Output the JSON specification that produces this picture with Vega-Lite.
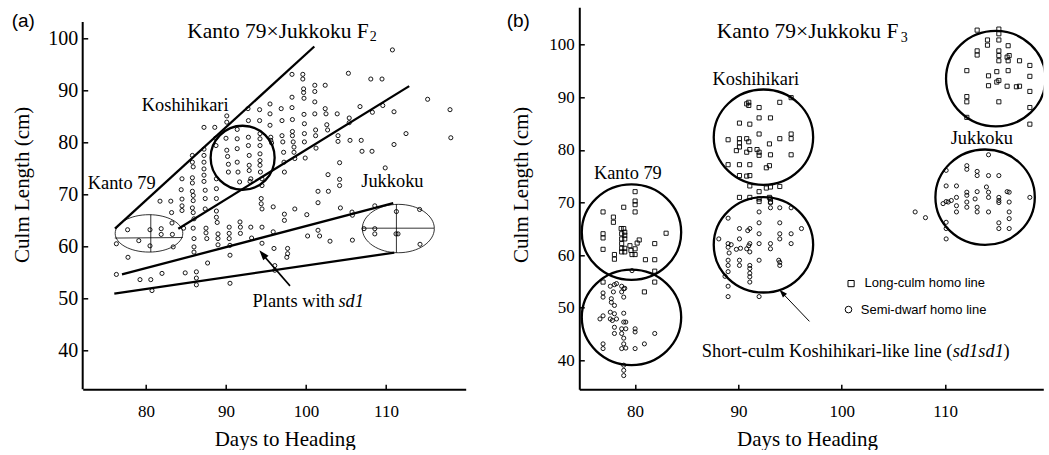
{
  "$schema": "https://vega.github.io/schema/vega-lite/v6.json",
  "background": "white",
  "padding": {"left": 11.7, "top": 7.3, "right": 0, "bottom": 0},
  "config": {
    "view": {"stroke": null},
    "axis": {
      "grid": false,
      "labelFont": "Liberation Serif", "labelFontSize": 17, "labelColor": "black",
      "titleFont": "Liberation Serif", "titleFontSize": 21, "titleFontWeight": "normal", "titleColor": "black",
      "domainColor": "black", "domainWidth": 2, "tickColor": "black", "tickWidth": 1.5, "tickSize": -5
    },
    "axisX": {"labelPadding": 19},
    "axisY": {"labelPadding": 10}
  },
  "datasets": {
    "leftPoints": [
      {"x":76.3,"y":60.5},{"x":76.3,"y":54.6},{"x":77.7,"y":63.2},{"x":77.75,"y":57.9},{"x":79.1,"y":61.1},{"x":79.25,"y":53.6},
      {"x":80.5,"y":63.2},{"x":80.5,"y":60.1},{"x":80.6,"y":53.6},{"x":80.75,"y":51.5},{"x":81.75,"y":68.7},{"x":81.9,"y":63.4},
      {"x":81.9,"y":62.3},{"x":82.0,"y":54.8},{"x":83.1,"y":68.7},{"x":83.2,"y":66.5},{"x":83.25,"y":64.5},{"x":83.3,"y":62.3},
      {"x":83.4,"y":59.9},{"x":84.5,"y":73.0},{"x":84.4,"y":70.9},{"x":84.5,"y":69.1},{"x":84.5,"y":67.8},{"x":84.5,"y":66.9},
      {"x":84.7,"y":63.5},{"x":84.9,"y":54.9},{"x":85.8,"y":77.5},{"x":85.8,"y":76.2},{"x":85.9,"y":75.3},{"x":85.8,"y":73.2},
      {"x":85.8,"y":72.2},{"x":85.8,"y":70.6},{"x":85.9,"y":69.8},{"x":85.9,"y":68.8},{"x":85.8,"y":67.4},{"x":85.9,"y":66.5},
      {"x":86.0,"y":65.3},{"x":85.9,"y":63.5},{"x":86.0,"y":61.5},{"x":86.0,"y":59.9},{"x":86.0,"y":58.9},{"x":86.3,"y":55.1},
      {"x":86.3,"y":53.9},{"x":86.3,"y":52.6},{"x":87.25,"y":82.9},{"x":87.25,"y":78.7},{"x":87.25,"y":77.5},{"x":87.25,"y":76.2},
      {"x":87.25,"y":74.9},{"x":87.25,"y":73.7},{"x":87.25,"y":72.5},{"x":87.4,"y":70.8},{"x":87.4,"y":69.2},{"x":87.4,"y":67.2},
      {"x":87.5,"y":63.5},{"x":87.5,"y":62.6},{"x":87.6,"y":61.5},{"x":87.7,"y":56.8},{"x":88.6,"y":82.9},{"x":88.7,"y":80.8},
      {"x":88.75,"y":79.4},{"x":88.8,"y":73.0},{"x":88.8,"y":71.1},{"x":88.8,"y":69.2},{"x":88.8,"y":66.8},{"x":88.8,"y":65.6},
      {"x":88.9,"y":64.6},{"x":89.0,"y":62.4},{"x":89.0,"y":61.5},{"x":89.0,"y":60.3},{"x":90.1,"y":85.1},{"x":90.1,"y":83.9},
      {"x":90.0,"y":80.8},{"x":90.1,"y":78.5},{"x":90.2,"y":77.3},{"x":90.3,"y":75.8},{"x":90.3,"y":74.3},{"x":90.4,"y":63.7},
      {"x":90.4,"y":62.5},{"x":90.4,"y":61.5},{"x":90.5,"y":60.2},{"x":90.5,"y":58.3},{"x":90.5,"y":52.9},{"x":91.4,"y":82.5},
      {"x":91.4,"y":80.7},{"x":91.4,"y":78.8},{"x":91.4,"y":76.2},{"x":91.5,"y":74.3},{"x":91.7,"y":72.4},{"x":91.75,"y":64.7},
      {"x":91.8,"y":63.7},{"x":91.8,"y":62.5},{"x":92.75,"y":86.5},{"x":92.8,"y":84.2},{"x":92.8,"y":81.0},{"x":92.8,"y":79.4},
      {"x":92.9,"y":77.5},{"x":92.9,"y":75.6},{"x":92.9,"y":74.6},{"x":93.1,"y":73.0},{"x":93.0,"y":72.5},{"x":93.1,"y":63.7},
      {"x":93.2,"y":61.6},{"x":94.2,"y":86.3},{"x":94.2,"y":84.2},{"x":94.25,"y":81.7},{"x":94.25,"y":80.7},{"x":94.25,"y":79.4},
      {"x":94.25,"y":77.8},{"x":94.25,"y":76.5},{"x":94.25,"y":75.6},{"x":94.3,"y":74.3},{"x":94.5,"y":73.0},{"x":94.5,"y":71.7},
      {"x":94.4,"y":69.2},{"x":94.4,"y":68.2},{"x":94.5,"y":67.2},{"x":94.5,"y":63.7},{"x":94.5,"y":60.6},{"x":95.5,"y":87.4},
      {"x":95.5,"y":85.5},{"x":95.5,"y":83.3},{"x":95.6,"y":81.0},{"x":95.6,"y":80.4},{"x":95.7,"y":79.9},{"x":95.9,"y":67.6},
      {"x":95.9,"y":62.8},{"x":96.0,"y":59.6},{"x":96.1,"y":56.3},{"x":96.1,"y":55.4},{"x":96.9,"y":86.5},{"x":97.0,"y":84.2},
      {"x":97.0,"y":81.3},{"x":97.1,"y":80.1},{"x":97.2,"y":78.1},{"x":97.25,"y":76.2},{"x":97.3,"y":74.3},{"x":97.3,"y":66.2},
      {"x":97.3,"y":65.0},{"x":97.6,"y":57.9},{"x":97.7,"y":58.6},{"x":97.7,"y":59.6},{"x":98.25,"y":93.1},{"x":98.25,"y":88.7},
      {"x":98.25,"y":86.7},{"x":98.3,"y":84.4},{"x":98.3,"y":82.1},{"x":98.3,"y":81.3},{"x":98.4,"y":80.1},{"x":98.5,"y":79.1},
      {"x":98.5,"y":78.1},{"x":98.6,"y":76.9},{"x":98.6,"y":67.2},{"x":99.6,"y":93.1},{"x":99.6,"y":92.2},{"x":99.7,"y":90.3},
      {"x":99.7,"y":89.6},{"x":99.75,"y":88.5},{"x":99.75,"y":85.4},{"x":99.8,"y":83.6},{"x":99.8,"y":81.7},{"x":99.8,"y":80.1},
      {"x":99.9,"y":77.0},{"x":100.1,"y":66.1},{"x":100.2,"y":62.0},{"x":101.1,"y":91.0},{"x":101.1,"y":89.8},{"x":101.1,"y":87.8},
      {"x":101.1,"y":85.5},{"x":101.2,"y":82.4},{"x":101.2,"y":81.3},{"x":101.25,"y":78.9},{"x":101.5,"y":70.6},{"x":101.5,"y":68.4},
      {"x":101.5,"y":63.1},{"x":101.7,"y":62.0},{"x":102.4,"y":91.0},{"x":102.4,"y":86.5},{"x":102.5,"y":85.5},{"x":102.6,"y":83.4},
      {"x":102.7,"y":82.4},{"x":102.75,"y":73.8},{"x":102.8,"y":70.6},{"x":103.0,"y":61.0},{"x":103.9,"y":85.5},{"x":104.0,"y":81.3},
      {"x":104.0,"y":80.2},{"x":104.2,"y":76.1},{"x":104.2,"y":72.9},{"x":104.2,"y":71.7},{"x":104.3,"y":67.4},{"x":105.3,"y":93.3},
      {"x":105.4,"y":84.7},{"x":105.4,"y":83.8},{"x":105.5,"y":80.4},{"x":105.75,"y":66.6},{"x":105.8,"y":61.2},{"x":105.8,"y":66.0},
      {"x":106.75,"y":86.9},{"x":106.9,"y":80.4},{"x":107.0,"y":78.3},{"x":107.25,"y":63.4},{"x":108.1,"y":92.2},{"x":108.25,"y":78.3},
      {"x":108.3,"y":85.8},{"x":108.6,"y":63.4},{"x":108.6,"y":62.4},{"x":108.6,"y":67.8},{"x":109.5,"y":92.2},{"x":109.6,"y":87.1},
      {"x":109.9,"y":75.1},{"x":110.8,"y":97.8},{"x":111.0,"y":85.9},{"x":111.0,"y":79.6},{"x":111.3,"y":66.7},{"x":111.25,"y":62.4},
      {"x":111.5,"y":62.4},{"x":112.5,"y":81.7},{"x":114.2,"y":67.1},{"x":114.25,"y":60.4},{"x":115.2,"y":88.3},{"x":118.0,"y":86.3},
      {"x":118.1,"y":80.9}
    ],
    "leftLines": [
      {"x":76.125,"y":63.4,"x2":101.04,"y2":98.46},
      {"x":84.04,"y":63.4,"x2":112.9,"y2":90.83},
      {"x":77.0,"y":54.6,"x2":110.9,"y2":68.3},
      {"x":76.04,"y":50.9,"x2":111.04,"y2":58.8}
    ],
    "leftCross": [
      {"x":76.1,"y":61.6,"x2":84.6,"y2":61.7},
      {"x":80.6,"y":66.1,"x2":80.6,"y2":58.9},
      {"x":107.0,"y":63.5,"x2":116.0,"y2":63.5},
      {"x":111.3,"y":68.1,"x2":111.3,"y2":58.8}
    ],
    "rightSquares": [
      {"x":76.9,"y":68.21},{"x":76.9,"y":64.06},{"x":76.9,"y":63.27},{"x":76.9,"y":61.1},{"x":77.9,"y":67.22},{"x":77.9,"y":66.24},
      {"x":78.0,"y":60.11},{"x":78.0,"y":59.23},{"x":78.9,"y":69.1},{"x":78.65,"y":65.05},{"x":78.7,"y":64.06},{"x":78.7,"y":63.08},
      {"x":78.7,"y":62.19},{"x":78.7,"y":61.3},{"x":78.7,"y":60.61},{"x":78.9,"y":65.05},{"x":79.0,"y":64.36},{"x":79.0,"y":63.77},
      {"x":79.0,"y":63.08},{"x":79.0,"y":61.3},{"x":79.0,"y":60.61},{"x":79.5,"y":61.79},{"x":79.6,"y":60.9},{"x":79.7,"y":60.11},
      {"x":80.0,"y":72.06},{"x":80.0,"y":70.28},{"x":80.0,"y":69.59},{"x":80.0,"y":68.21},{"x":80.2,"y":62.29},{"x":80.0,"y":61.2},
      {"x":80.0,"y":60.11},{"x":80.4,"y":62.88},{"x":81.0,"y":59.13},{"x":81.9,"y":62.19},{"x":81.9,"y":59.13},{"x":81.9,"y":56.95},
      {"x":81.9,"y":54.88},{"x":83.0,"y":64.16},{"x":80.9,"y":53.01},{"x":76.9,"y":54.88},
      {"x":91.0,"y":89.04},{"x":91.0,"y":88.45},{"x":90.8,"y":88.75},{"x":92.0,"y":88.05},{"x":94.0,"y":89.04},{"x":95.1,"y":89.93},
      {"x":90.1,"y":85.09},{"x":91.1,"y":84.89},{"x":92.0,"y":86.08},{"x":93.1,"y":86.08},{"x":89.0,"y":81.93},{"x":90.1,"y":82.13},
      {"x":90.1,"y":81.34},{"x":90.1,"y":80.55},{"x":89.8,"y":79.86},{"x":90.8,"y":82.13},{"x":91.0,"y":81.54},{"x":91.1,"y":80.06},
      {"x":90.8,"y":79.56},{"x":92.0,"y":83.02},{"x":91.8,"y":80.06},{"x":92.0,"y":79.56},{"x":92.0,"y":78.97},{"x":93.0,"y":81.14},
      {"x":93.1,"y":79.07},{"x":94.0,"y":82.13},{"x":95.1,"y":83.02},{"x":95.1,"y":82.13},{"x":95.1,"y":79.07},{"x":89.0,"y":77.19},
      {"x":90.1,"y":77.19},{"x":91.1,"y":77.19},{"x":92.7,"y":76.6},{"x":93.0,"y":77.0},{"x":90.1,"y":75.12},{"x":90.8,"y":75.02},
      {"x":91.1,"y":75.12},{"x":91.1,"y":73.15},{"x":92.0,"y":72.06},{"x":92.7,"y":72.75},{"x":93.1,"y":72.95},{"x":94.0,"y":73.05},
      {"x":90.1,"y":70.97},{"x":91.1,"y":70.97},{"x":92.0,"y":70.18},{"x":92.0,"y":70.68},{"x":93.1,"y":70.68},{"x":93.1,"y":70.09},
      {"x":93.0,"y":70.97},
      {"x":113.1,"y":102.76},{"x":114.1,"y":100.89},{"x":114.1,"y":99.9},{"x":113.1,"y":98.82},{"x":113.1,"y":98.03},{"x":115.2,"y":102.96},
      {"x":115.2,"y":102.07},{"x":115.2,"y":100.89},{"x":115.2,"y":98.82},{"x":115.2,"y":97.93},{"x":115.2,"y":96.94},{"x":116.1,"y":99.8},
      {"x":116.0,"y":97.63},{"x":116.1,"y":96.94},{"x":116.2,"y":97.93},{"x":117.2,"y":96.94},{"x":112.1,"y":95.06},{"x":114.2,"y":94.08},
      {"x":115.0,"y":94.87},{"x":115.2,"y":93.19},{"x":114.2,"y":92.2},{"x":115.0,"y":92.89},{"x":116.1,"y":95.06},{"x":116.0,"y":92.1},
      {"x":116.9,"y":92.0},{"x":117.2,"y":92.1},{"x":118.2,"y":96.05},{"x":118.2,"y":93.98},{"x":118.2,"y":91.11},{"x":118.2,"y":88.05},
      {"x":118.2,"y":84.89},{"x":112.1,"y":90.13},{"x":112.1,"y":89.14},{"x":112.1,"y":86.18},{"x":115.2,"y":89.14}
    ],
    "rightCircles": [
      {"x":76.9,"y":52.81},{"x":76.9,"y":52.02},{"x":77.6,"y":54.09},{"x":78.0,"y":54.39},{"x":78.2,"y":54.59},{"x":77.9,"y":53.01},
      {"x":77.7,"y":51.72},{"x":77.7,"y":51.03},{"x":78.0,"y":50.44},{"x":78.7,"y":54.09},{"x":78.9,"y":53.6},{"x":78.7,"y":53.01},
      {"x":79.0,"y":53.7},{"x":78.9,"y":52.02},{"x":76.6,"y":47.87},{"x":76.9,"y":48.46},{"x":77.6,"y":49.16},{"x":78.0,"y":48.86},
      {"x":77.6,"y":47.87},{"x":77.8,"y":47.58},{"x":78.2,"y":47.87},{"x":78.0,"y":46.29},{"x":78.9,"y":48.96},{"x":78.9,"y":47.28},
      {"x":79.1,"y":47.28},{"x":79.1,"y":46.0},{"x":78.0,"y":45.11},{"x":78.7,"y":46.0},{"x":78.7,"y":45.11},{"x":78.9,"y":44.22},
      {"x":78.9,"y":43.13},{"x":78.7,"y":42.24},{"x":79.1,"y":42.34},{"x":80.0,"y":46.0},{"x":80.0,"y":45.4},{"x":81.9,"y":45.11},
      {"x":80.9,"y":43.13},{"x":80.0,"y":42.24},{"x":76.9,"y":43.13},{"x":76.9,"y":42.24},{"x":78.9,"y":39.08},{"x":78.9,"y":38.1},
      {"x":78.9,"y":37.11},{"x":79.7,"y":57.05},
      {"x":89.0,"y":67.02},{"x":88.1,"y":63.08},{"x":89.0,"y":62.19},{"x":89.0,"y":61.5},{"x":89.3,"y":61.99},{"x":89.1,"y":60.41},
      {"x":89.0,"y":59.03},{"x":89.0,"y":58.04},{"x":88.7,"y":55.97},{"x":89.0,"y":56.86},{"x":89.0,"y":54.09},{"x":89.0,"y":52.12},
      {"x":90.1,"y":65.05},{"x":89.8,"y":61.1},{"x":90.1,"y":63.08},{"x":90.2,"y":61.3},{"x":90.1,"y":59.03},{"x":90.1,"y":58.04},
      {"x":91.1,"y":65.05},{"x":90.9,"y":64.66},{"x":91.1,"y":62.19},{"x":91.0,"y":61.79},{"x":90.8,"y":61.2},{"x":91.1,"y":60.61},
      {"x":91.1,"y":58.04},{"x":91.1,"y":57.45},{"x":91.1,"y":56.56},{"x":91.1,"y":55.87},{"x":91.1,"y":54.88},{"x":92.0,"y":68.21},
      {"x":92.0,"y":66.14},{"x":92.0,"y":64.06},{"x":92.0,"y":62.19},{"x":92.0,"y":59.03},{"x":92.0,"y":52.12},{"x":93.1,"y":69.0},
      {"x":93.1,"y":62.19},{"x":93.1,"y":61.2},{"x":94.0,"y":69.0},{"x":94.0,"y":66.14},{"x":94.0,"y":64.06},{"x":94.0,"y":63.08},
      {"x":93.9,"y":59.03},{"x":94.0,"y":58.04},{"x":95.1,"y":69.0},{"x":95.1,"y":64.06},{"x":95.1,"y":62.19},{"x":96.1,"y":65.05},
      {"x":93.1,"y":69.99},{"x":94.0,"y":58.63},
      {"x":114.2,"y":79.07},{"x":112.1,"y":77.0},{"x":112.1,"y":76.31},{"x":113.1,"y":75.91},{"x":113.1,"y":75.12},{"x":114.2,"y":75.12},
      {"x":115.2,"y":75.12},{"x":110.1,"y":76.11},{"x":110.1,"y":73.15},{"x":111.1,"y":73.15},{"x":112.1,"y":71.96},{"x":112.1,"y":71.37},
      {"x":111.1,"y":70.97},{"x":113.1,"y":72.06},{"x":114.0,"y":72.95},{"x":114.2,"y":70.97},{"x":115.2,"y":70.97},{"x":116.0,"y":72.06},
      {"x":116.2,"y":71.96},{"x":110.1,"y":70.18},{"x":109.8,"y":69.79},{"x":110.3,"y":70.09},{"x":110.6,"y":70.38},{"x":111.1,"y":69.39},
      {"x":111.1,"y":68.21},{"x":112.1,"y":70.09},{"x":112.9,"y":70.68},{"x":113.1,"y":69.1},{"x":113.1,"y":68.21},{"x":114.2,"y":68.21},
      {"x":114.2,"y":71.96},{"x":115.2,"y":70.38},{"x":115.2,"y":69.99},{"x":116.2,"y":70.09},{"x":116.2,"y":68.21},{"x":116.2,"y":66.93},
      {"x":110.1,"y":66.24},{"x":110.1,"y":65.05},{"x":110.1,"y":63.08},{"x":115.2,"y":66.14},{"x":115.2,"y":65.05},{"x":116.2,"y":65.05},
      {"x":118.2,"y":70.97},{"x":107.1,"y":68.21},{"x":108.1,"y":67.12},{"x":112.1,"y":69.1}
    ],
    "rightRings": [
      {"x":79.65,"y":64.36,"group":"Kanto 79 long"},
      {"x":79.65,"y":48.17,"group":"Kanto 79 short"},
      {"x":92.42,"y":82.41,"group":"Koshihikari long"},
      {"x":92.42,"y":61.96,"group":"Koshihikari short"},
      {"x":114.9,"y":93.54,"group":"Jukkoku long"},
      {"x":113.87,"y":71.01,"group":"Jukkoku short"}
    ]
  },
  "hconcat": [
    {
      "width": 383,
      "height": 382,
      "encoding": {
        "x": {"field": "x", "type": "quantitative", "scale": {"domain": [72.09, 119.96], "nice": false, "zero": false},
              "axis": {"values": [80, 90, 100, 110], "title": "Days to Heading", "titleX": 202, "titleY": 56.6, "titleBaseline": "alphabetic", "titleAlign": "center"}},
        "y": {"field": "y", "type": "quantitative", "scale": {"domain": [32.5, 106.0], "nice": false, "zero": false},
              "axis": {"values": [40, 50, 60, 70, 80, 90, 100], "domain": false, "labelFontSize": 20, "title": "Culm Length (cm)", "titleX": -54, "titleY": 177, "titleAngle": 270, "titleBaseline": "alphabetic", "titleAlign": "center"}}
      },
      "layer": [
        {"data": {"values": [{"x": 72.09, "y": 32.5, "y2": 103.15}]},
         "mark": {"type": "rule", "color": "black", "strokeWidth": 2},
         "encoding": {"y2": {"field": "y2"}}},
        {"data": {"name": "leftPoints"},
         "mark": {"type": "point", "shape": "circle", "filled": false, "color": "black", "opacity": 1, "size": 17, "strokeWidth": 0.9}},
        {"data": {"name": "leftLines"},
         "mark": {"type": "rule", "color": "black", "strokeWidth": 2.3},
         "encoding": {"x2": {"field": "x2"}, "y2": {"field": "y2"}}},
        {"data": {"name": "leftCross"},
         "mark": {"type": "rule", "color": "black", "strokeWidth": 0.8},
         "encoding": {"x2": {"field": "x2"}, "y2": {"field": "y2"}}},
        {"data": {"values": [{"x": 80.375, "y": 62.5}]},
         "mark": {"type": "point", "shape": "M1,0C1,0.3054,0.5523,0.553,0,0.553C-0.5523,0.553,-1,0.3054,-1,0C-1,-0.3054,-0.5523,-0.553,0,-0.553C0.5523,-0.553,1,-0.3054,1,0Z", "filled": false, "color": "black", "opacity": 1, "size": 4570, "strokeWidth": 0.8}},
        {"data": {"values": [{"x": 111.54, "y": 63.43}]},
         "mark": {"type": "point", "shape": "M1,0C1,0.3711,0.5523,0.672,0,0.672C-0.5523,0.672,-1,0.3711,-1,0C-1,-0.3711,-0.5523,-0.672,0,-0.672C0.5523,-0.672,1,-0.3711,1,0Z", "filled": false, "color": "black", "opacity": 1, "size": 5184, "strokeWidth": 0.8}},
        {"data": {"values": [{"x": 92.08, "y": 77.05}]},
         "mark": {"type": "point", "shape": "M1,0C1,0.5523,0.5523,1,0,1C-0.5523,1,-1,0.5523,-1,0C-1,-0.5523,-0.5523,-1,0,-1C0.5523,-1,1,-0.5523,1,0Z", "filled": false, "color": "black", "opacity": 1, "size": 4096, "strokeWidth": 2.3}},
        {"data": {"values": [{"x": 98.0, "y": 52.4, "x2": 94.5, "y2": 58.6}]},
         "mark": {"type": "rule", "color": "black", "strokeWidth": 1.6},
         "encoding": {"x2": {"field": "x2"}, "y2": {"field": "y2"}}},
        {"data": {"values": [{"x": 94.17, "y": 59.23}]},
         "mark": {"type": "point", "shape": "M0,0L0.7,2L-0.7,2Z", "filled": true, "color": "black", "opacity": 1, "size": 100, "angle": 319.3, "strokeWidth": 0}},
        {"data": {"values": [
            {"x": 84.9, "y": 85.96, "label": "Koshihikari"},
            {"x": 76.96, "y": 71.1, "label": "Kanto 79"},
            {"x": 110.8, "y": 71.4, "label": "Jukkoku"}
          ]},
         "mark": {"type": "text", "font": "Liberation Serif", "fontSize": 18.4, "align": "center", "baseline": "alphabetic", "color": "black"},
         "encoding": {"text": {"field": "label"}}},
        {"data": {"values": [{"x": 103.6, "y": 48.35, "label": "Plants with"}]},
         "mark": {"type": "text", "font": "Liberation Serif", "fontSize": 18.4, "align": "right", "baseline": "alphabetic", "color": "black"},
         "encoding": {"text": {"field": "label"}}},
        {"data": {"values": [{"x": 104.05, "y": 48.35, "label": "sd1"}]},
         "mark": {"type": "text", "font": "Liberation Serif", "fontSize": 18.4, "fontStyle": "italic", "align": "left", "baseline": "alphabetic", "color": "black"},
         "encoding": {"text": {"field": "label"}}},
        {"data": {"values": [{"x": 85.15, "y": 100.08, "label": "Kanto 79×Jukkoku F"}]},
         "mark": {"type": "text", "font": "Liberation Serif", "fontSize": 21.5, "align": "left", "baseline": "alphabetic", "color": "black"},
         "encoding": {"text": {"field": "label"}}},
        {"data": {"values": [{"x": 107.96, "y": 99.45, "label": "2"}]},
         "mark": {"type": "text", "font": "Liberation Serif", "fontSize": 14, "align": "left", "baseline": "alphabetic", "color": "black"},
         "encoding": {"text": {"field": "label"}}},
        {"data": {"values": [{"x": 63.22, "y": 102.21, "label": "(a)"}]},
         "mark": {"type": "text", "font": "Liberation Sans", "fontSize": 19, "align": "left", "baseline": "alphabetic", "color": "black"},
         "encoding": {"text": {"field": "label"}}}
      ]
    },
    {
      "width": 464,
      "height": 382,
      "encoding": {
        "x": {"field": "x", "type": "quantitative", "scale": {"domain": [74.6, 119.5], "nice": false, "zero": false},
              "axis": {"values": [80, 90, 100, 110], "title": "Days to Heading", "titleX": 227.7, "titleY": 56.6, "titleBaseline": "alphabetic", "titleAlign": "center"}},
        "y": {"field": "y", "type": "quantitative", "scale": {"domain": [34.5, 107.1], "nice": false, "zero": false},
              "axis": {"values": [40, 50, 60, 70, 80, 90, 100], "title": "Culm Length (cm)", "titleX": -52, "titleY": 177, "titleAngle": 270, "titleBaseline": "alphabetic", "titleAlign": "center"}}
      },
      "layer": [
        {"data": {"name": "rightSquares"},
         "mark": {"type": "point", "shape": "square", "filled": false, "color": "black", "opacity": 1, "size": 17, "strokeWidth": 0.9, "clip": true}},
        {"data": {"name": "rightCircles"},
         "mark": {"type": "point", "shape": "circle", "filled": false, "color": "black", "opacity": 1, "size": 17, "strokeWidth": 0.9, "clip": true}},
        {"data": {"name": "rightRings"},
         "mark": {"type": "point", "shape": "M1,0C1,0.5302,0.5523,0.96,0,0.96C-0.5523,0.96,-1,0.5302,-1,0C-1,-0.5302,-0.5523,-0.96,0,-0.96C0.5523,-0.96,1,-0.5302,1,0Z", "filled": false, "color": "black", "opacity": 1, "size": 9880, "strokeWidth": 2.3, "clip": true}},
        {"data": {"values": [{"x": 96.87, "y": 47.41, "x2": 94.2, "y2": 52.9}]},
         "mark": {"type": "rule", "color": "black", "strokeWidth": 1},
         "encoding": {"x2": {"field": "x2"}, "y2": {"field": "y2"}}},
        {"data": {"values": [{"x": 93.97, "y": 53.4}]},
         "mark": {"type": "point", "shape": "M0,0L0.7,2L-0.7,2Z", "filled": true, "color": "black", "opacity": 1, "size": 64, "angle": 316.5, "strokeWidth": 0}},
        {"data": {"values": [{"x": 100.9, "y": 54.59}]},
         "mark": {"type": "point", "shape": "square", "filled": false, "color": "black", "opacity": 1, "size": 38, "strokeWidth": 1}},
        {"data": {"values": [{"x": 100.65, "y": 49.65}]},
         "mark": {"type": "point", "shape": "circle", "filled": false, "color": "black", "opacity": 1, "size": 44, "strokeWidth": 1}},
        {"data": {"values": [
            {"x": 102.2, "y": 53.89, "label": "Long-culm homo line"},
            {"x": 101.84, "y": 48.86, "label": "Semi-dwarf homo line"}
          ]},
         "mark": {"type": "text", "font": "Liberation Sans", "fontSize": 13, "align": "left", "baseline": "alphabetic", "color": "black"},
         "encoding": {"text": {"field": "label"}}},
        {"data": {"values": [
            {"x": 91.68, "y": 92.34, "label": "Koshihikari"},
            {"x": 79.3, "y": 74.53, "label": "Kanto 79"},
            {"x": 113.55, "y": 81.04, "label": "Jukkoku"}
          ]},
         "mark": {"type": "text", "font": "Liberation Serif", "fontSize": 18.4, "align": "center", "baseline": "alphabetic", "color": "black"},
         "encoding": {"text": {"field": "label"}}},
        {"data": {"values": [
            {"x": 86.45, "y": 40.63, "label": "Short-culm Koshihikari-like line ("},
            {"x": 115.66, "y": 40.63, "label": ")"}
          ]},
         "mark": {"type": "text", "font": "Liberation Serif", "fontSize": 18.4, "align": "left", "baseline": "alphabetic", "color": "black"},
         "encoding": {"text": {"field": "label"}}},
        {"data": {"values": [{"x": 110.74, "y": 40.63, "label": "sd1sd1"}]},
         "mark": {"type": "text", "font": "Liberation Serif", "fontSize": 18.4, "fontStyle": "italic", "align": "left", "baseline": "alphabetic", "color": "black"},
         "encoding": {"text": {"field": "label"}}},
        {"data": {"values": [{"x": 87.9, "y": 101.18, "label": "Kanto 79×Jukkoku F"}]},
         "mark": {"type": "text", "font": "Liberation Serif", "fontSize": 21.5, "align": "left", "baseline": "alphabetic", "color": "black"},
         "encoding": {"text": {"field": "label"}}},
        {"data": {"values": [{"x": 105.7, "y": 100.59, "label": "3"}]},
         "mark": {"type": "text", "font": "Liberation Serif", "fontSize": 14, "align": "left", "baseline": "alphabetic", "color": "black"},
         "encoding": {"text": {"field": "label"}}},
        {"data": {"values": [{"x": 67.57, "y": 103.32, "label": "(b)"}]},
         "mark": {"type": "text", "font": "Liberation Sans", "fontSize": 19, "align": "left", "baseline": "alphabetic", "color": "black"},
         "encoding": {"text": {"field": "label"}}}
      ]
    }
  ],
  "spacing": 113.6,
  "bounds": "flush"
}
